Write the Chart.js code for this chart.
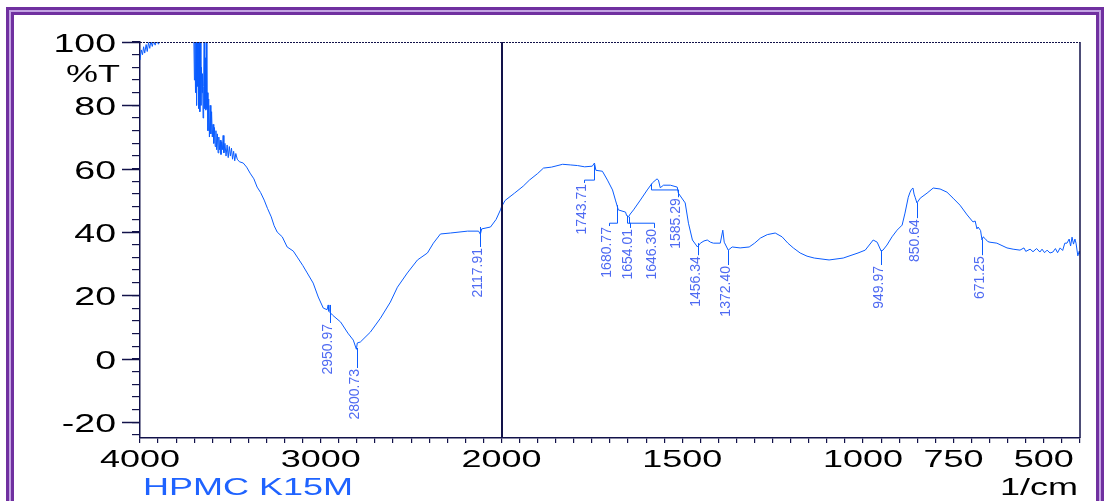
<!DOCTYPE html>
<html>
<head>
<meta charset="utf-8">
<script src="https://cdn.jsdelivr.net/npm/chart.js@4.4.1/dist/chart.umd.min.js"></script>
<style>
  html, body { margin: 0; padding: 0; background: #fff; overflow: hidden; }
  #frame { position: absolute; left: 6px; top: 7px; width: 1098px; height: 520px; box-sizing: border-box;
           border: 3px solid #7030a0; border-bottom: none; background: #c3a3e3; }
  #inner { position: absolute; left: 2px; top: 2px; right: 2px; bottom: 0;
           border: 3px solid #7030a0; border-bottom: none; background: #fff; }
  #wrap { position: absolute; left: 0; top: 0; width: 1106px; height: 501px; }
</style>
</head>
<body>
<div id="frame"><div id="inner"></div></div>
<div id="wrap"><canvas id="irChart" width="1106" height="501"></canvas></div>
<script>
// spectrum (wavenumber in 1/cm, transmittance in %T)
const wavenumber = [
  4000, 3993, 3986, 3980, 3974, 3966, 3960, 3953, 3946, 3940, 3932, 3925, 3916, 3908, 3898, 3888,
  3880, 3850, 3800, 3750, 3712, 3702, 3699, 3696, 3693, 3690, 3687, 3684, 3681, 3678, 3675, 3672,
  3669, 3666, 3663, 3660, 3657, 3654, 3651, 3648, 3645, 3642, 3639, 3636, 3633, 3630, 3627, 3624,
  3620, 3616, 3612, 3608, 3604, 3600, 3596, 3592, 3588, 3584, 3580, 3576, 3572, 3568, 3564, 3560,
  3556, 3552, 3548, 3544, 3540, 3536, 3530, 3524, 3518, 3512, 3506, 3500, 3494, 3488, 3482, 3476,
  3470, 3462, 3450, 3429, 3410, 3391, 3370, 3352, 3333, 3313, 3295, 3274, 3258, 3241, 3213, 3186,
  3152, 3130, 3100, 3075, 3042, 3014, 2986, 2965, 2959, 2955, 2935, 2890, 2850, 2820, 2803, 2798,
  2781, 2726, 2670, 2615, 2576, 2521, 2465, 2410, 2377, 2338, 2283, 2188, 2127, 2117, 2110, 2061,
  2030, 2006, 2000,
  1990, 1964, 1940, 1923, 1900, 1884, 1862, 1831, 1810, 1790, 1770, 1749, 1743, 1739, 1721, 1707,
  1693, 1685, 1677, 1657, 1654, 1649, 1644, 1635, 1616, 1597, 1583, 1570, 1566, 1561, 1552, 1533,
  1514, 1511, 1492, 1483, 1472, 1458, 1450, 1440, 1431, 1422, 1414, 1395, 1388, 1384, 1373, 1362,
  1340, 1315, 1300, 1284, 1265, 1243, 1224, 1208, 1193, 1174, 1155, 1135, 1094, 1055, 1014, 994,
  972, 961, 950, 945, 934, 920, 906, 892, 884, 875, 870, 866, 862, 859, 856, 851,
  842, 823, 806, 787, 768, 751, 732, 712, 696, 690, 685, 682, 675, 671, 668, 663,
  655, 649, 630, 602, 585, 566, 555, 550, 538, 530, 520, 511, 505, 498, 491, 483,
  475, 468, 462, 455, 448, 442, 436, 430, 426, 422, 418, 414, 411, 406, 402, 400
];
const transmittance = [
  94.3, 97.5, 96, 98.5, 96.5, 99.2, 97, 99.8, 98, 100.3, 98.6, 100.4, 99, 100.6, 99.3, 100.8,
  102, 105, 106, 105, 103, 100.5, 88, 101, 84, 100, 80, 101, 86, 102, 79, 100,
  78, 101, 80, 92, 84, 90, 76, 86, 101, 79, 95, 78.5, 100, 79, 84, 72,
  82, 70, 80, 71, 78, 70, 74, 68, 73, 67, 72, 66, 71, 65, 70, 66,
  69, 64.5, 68.5, 66, 70.5, 65, 68, 64, 67.5, 63.5, 67, 64, 66.5, 63, 65.5, 62.5,
  64.8, 63, 62.2, 61.8, 60.5, 58.6, 56.8, 54.2, 52.5, 50.1, 47.5, 44.8, 42, 40, 38.5, 35.3,
  34, 32.1, 29.5, 27.1, 23.9, 19.5, 16, 15.5, 17, 15, 13.8, 11.6, 8.1, 5.9, 3, 5,
  5.3, 8.4, 12.8, 17.9, 22.6, 27.1, 31.2, 33.4, 36.5, 39.4, 39.7, 40.3, 40.3, 39.3, 41, 41.6,
  44, 47, 48,
  50, 52.3, 54.5, 56.4, 58.5, 60.2, 60.5, 61.4, 61.2, 61, 60.6, 60.8, 61.8, 59.5, 59.2, 56.4,
  53.3, 50.1, 47, 46.3, 45.2, 44.8, 45.7, 47, 50.1, 53.3, 55.5, 56.8, 56.4, 54, 54.8, 54.8,
  54.2, 52.3, 49.2, 42.8, 37.5, 35.3, 36.5, 37.2, 37.5, 36.8, 36.5, 36.5, 40.6, 36.8, 34.3, 35.3,
  35, 35.3, 36.5, 38.1, 39.2, 39.7, 38.5, 36.5, 35, 33.4, 32.4, 31.8, 31.2, 31.8, 33.4, 34.3,
  37.5, 36.8, 34, 34.3, 35.9, 38.5, 40.6, 42.2, 46, 51, 52.6, 53.5, 53.9, 52, 51, 49.2,
  50.7, 52.3, 53.9, 53.6, 52.6, 50.7, 48.5, 45.4, 43.2, 43.5, 41, 41.6, 40.5, 37.5, 38.5, 38,
  37, 36.8, 36.5, 35, 34.6, 34.3, 35, 33.9, 34.6, 33.8, 34.8, 33.7, 34.6, 33.5, 34.3, 33.4,
  33.7, 34.8, 33.5, 35, 34.2, 36.5, 36.5, 37.8, 35.6, 38.4, 36.2, 37.8, 36.5, 32.5, 34, 33
];

// axis ticks
const xMinorTicks = [];
for (let w = 4000; w > 2000; w -= 100) xMinorTicks.push(w);
for (let w = 2000; w >= 400; w -= 50) xMinorTicks.push(w);
const xLabels = [4000, 3000, 2000, 1500, 1000, 750, 500];
const yMinorTicks = [];
for (let v = -24; v <= 100; v += 4) yMinorTicks.push(v);
const yLabels = [100, 80, 60, 40, 20, 0, -20];

// peak labels
const peakText = ['2950.97', '2800.73', '2117.91', '1743.71', '1680.77', '1654.01', '1646.30',
                  '1585.29', '1456.34', '1372.40', '949.97', '850.64', '671.25'];
const peakWn = [2950.97, 2800.73, 2117.91, 1743.71, 1680.77, 1654.01, 1646.30,
                1585.29, 1456.34, 1372.40, 949.97, 850.64, 671.25];
// where each label sits: marker top, bend of leader, text top (%T) and text wavenumber
const peakMarkTop = [17, 3.4, 41.6, 61.2, 48.5, 45.2, 44.8, 55.2, 36.5, 34.3, 34.3, 49.2, 37.5];
const peakBend    = [11.3, -2.9, 35.3, 56.4, 42.8, 42.8, 42.8, 53.3, 32.7, 29.6, 29.6, 44.4, 32.7];
const peakTextTop = [11.3, -2.9, 35.3, 55.5, 41.9, 41.3, 41.3, 51, 32.7, 29.6, 29.6, 44.4, 32.7];
const peakTextWn  = [2950.97, 2800.73, 2117.91, 1771, 1704, 1644, 1577,
                     1511, 1456.34, 1372.40, 949.97, 850.64, 671.25];

// 4000-2000 is drawn at half the scale of 2000-400
function toAxis(w) {
  return w >= 2000 ? (4000 - w) / 2 : 1000 + (2000 - w);
}

const axisColor = '#12124a';
const STRETCH = 1.5;

function wideText(ctx, text, x, y, align, font, color) {
  ctx.save();
  ctx.font = font;
  ctx.fillStyle = color;
  ctx.textBaseline = 'alphabetic';
  ctx.textAlign = 'left';
  const w = ctx.measureText(text).width * STRETCH;
  const left = align === 'right' ? x - w : align === 'center' ? x - w / 2 : x;
  ctx.translate(left, y);
  ctx.scale(STRETCH, 1);
  ctx.fillText(text, 0, 0);
  ctx.restore();
}

const irDecor = {
  id: 'irDecor',
  afterDraw(chart) {
    const ctx = chart.ctx;
    const xs = chart.scales.x, ys = chart.scales.y;
    const a = chart.chartArea;
    ctx.save();
    // top dotted frame
    ctx.strokeStyle = axisColor;
    ctx.lineWidth = 1;
    ctx.setLineDash([2, 1]);
    ctx.beginPath();
    ctx.moveTo(a.left, a.top + 0.5);
    ctx.lineTo(a.right, a.top + 0.5);
    ctx.stroke();
    ctx.setLineDash([]);
    // right frame
    ctx.lineWidth = 1.5;
    ctx.beginPath();
    ctx.moveTo(a.right, a.top);
    ctx.lineTo(a.right, a.bottom);
    ctx.stroke();
    // scale break at 2000
    const xb = Math.round(xs.getPixelForValue(toAxis(2000)));
    ctx.lineWidth = 2;
    ctx.beginPath();
    ctx.moveTo(xb, a.top);
    ctx.lineTo(xb, a.bottom);
    ctx.stroke();
    // long ticks and labels on y
    ctx.lineWidth = 1.5;
    yLabels.forEach(v => {
      const y = Math.round(ys.getPixelForValue(v)) + 0.5;
      ctx.beginPath();
      ctx.moveTo(a.left - 18, y);
      ctx.lineTo(a.left, y);
      ctx.stroke();
      wideText(ctx, String(v), a.left - 24, y + 9.5, 'right', '25px "Liberation Sans", Arial', '#000');
    });
    wideText(ctx, '%T', a.left - 20, ys.getPixelForValue(90) + 8.5, 'right', '24px "Liberation Sans", Arial', '#000');
    // x labels
    xLabels.forEach(w => {
      wideText(ctx, String(w), xs.getPixelForValue(toAxis(w)), a.bottom + 29, 'center', '24px "Liberation Sans", Arial', '#000');
    });
    wideText(ctx, '1/cm', a.right - 2, 495, 'right', '24px "Liberation Sans", Arial', '#000');
    wideText(ctx, 'HPMC K15M', a.left + 3, 495, 'left', '24px "Liberation Sans", Arial', '#1f63ff');
    // peak markers and labels
    ctx.lineWidth = 1;
    ctx.strokeStyle = '#0a5cff';
    peakText.forEach((t, i) => {
      const xm = Math.round(xs.getPixelForValue(toAxis(peakWn[i]))) + 0.5;
      const xt = Math.round(xs.getPixelForValue(toAxis(peakTextWn[i]))) + 0.5;
      const yBend = ys.getPixelForValue(peakBend[i]);
      const yTop = ys.getPixelForValue(peakTextTop[i]);
      ctx.beginPath();
      ctx.moveTo(xm, ys.getPixelForValue(peakMarkTop[i]));
      ctx.lineTo(xm, yBend);
      ctx.lineTo(xt, yBend);
      ctx.lineTo(xt, yTop);
      ctx.stroke();
      ctx.save();
      ctx.translate(xt + 1, yTop + 1);
      ctx.rotate(-Math.PI / 2);
      ctx.font = '14px "Liberation Sans", Arial';
      ctx.fillStyle = '#4e6af2';
      ctx.textAlign = 'right';
      ctx.textBaseline = 'alphabetic';
      ctx.fillText(t, 0, 0);
      ctx.restore();
    });
    ctx.restore();
  }
};

new Chart(document.getElementById('irChart').getContext('2d'), {
  type: 'line',
  data: {
    datasets: [{
      data: wavenumber.map((w, i) => ({ x: toAxis(w), y: transmittance[i] })),
      borderColor: '#0a5cff',
      borderWidth: 1,
      pointRadius: 0,
      tension: 0,
      clip: 0
    }]
  },
  options: {
    responsive: false,
    animation: false,
    devicePixelRatio: 1,
    layout: { padding: { left: 116, top: 42, right: 26, bottom: 33 } },
    scales: {
      x: {
        type: 'linear',
        min: 0,
        max: toAxis(400),
        border: { display: true, color: axisColor, width: 1.5 },
        grid: { display: true, drawOnChartArea: false, drawTicks: true, tickLength: 5, color: axisColor, lineWidth: 1.2 },
        ticks: { display: false },
        afterBuildTicks: s => { s.ticks = xMinorTicks.map(w => ({ value: toAxis(w) })); },
        afterFit: s => { s.height = 30; }
      },
      y: {
        type: 'linear',
        min: -25,
        max: 100,
        border: { display: true, color: axisColor, width: 1.5 },
        grid: { display: true, drawOnChartArea: false, drawTicks: true, tickLength: 8, color: axisColor, lineWidth: 1.2 },
        ticks: { display: false },
        afterBuildTicks: s => { s.ticks = yMinorTicks.map(v => ({ value: v })); },
        afterFit: s => { s.width = 24; }
      }
    },
    plugins: {
      legend: { display: false },
      tooltip: { enabled: false }
    }
  },
  plugins: [irDecor]
});
</script>
</body>
</html>
